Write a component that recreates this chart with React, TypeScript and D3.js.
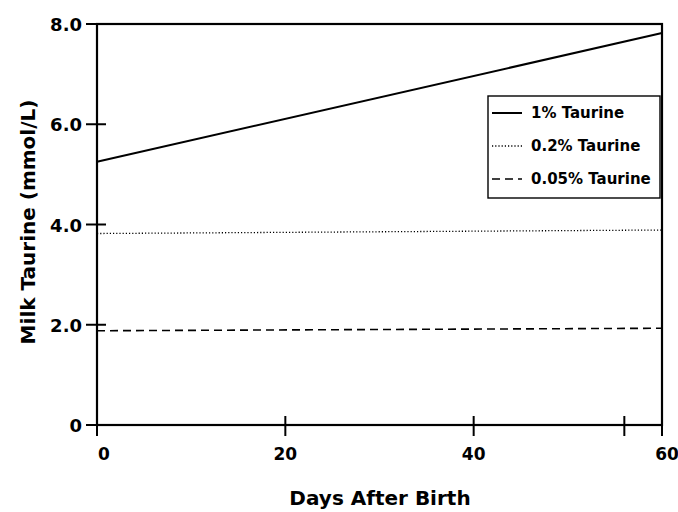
import React, { useEffect, useRef } from "react";
import * as d3 from "d3";

const days = [0, 60];
const taurine1 = [5.25, 7.82];
const taurine02 = [3.82, 3.89];
const taurine005 = [1.88, 1.93];
const seriesNames = ["1% Taurine", "0.2% Taurine", "0.05% Taurine"];
const yTicks = [0, 2, 4, 6, 8];
const xTicks = [0, 20, 40, 56, 60];
const xLabelled = [0, 20, 40, 60];

const W = 678;
const H = 512;
const font = "'DejaVu Sans', Arial, sans-serif";

export default function App() {
  const ref = useRef<SVGSVGElement>(null);

  useEffect(() => {
    const svg = d3.select(ref.current);
    svg.selectAll("*").remove();

    const x = d3.scaleLinear().domain([0, 60]).range([97, 662]);
    const y = d3.scaleLinear().domain([0, 8]).range([425, 24]);

    // frame
    svg.append("rect")
      .attr("x", x(0)).attr("y", y(8))
      .attr("width", x(60) - x(0)).attr("height", y(0) - y(8))
      .attr("fill", "none").attr("stroke", "#000").attr("stroke-width", 2.2);

    // y ticks (crossing)
    svg.selectAll(".yt").data(yTicks).enter().append("line")
      .attr("x1", x(0) - 11).attr("x2", x(0) + 9)
      .attr("y1", d => y(d)).attr("y2", d => y(d))
      .attr("stroke", "#000").attr("stroke-width", 2);
    svg.selectAll(".yl").data(yTicks).enter().append("text")
      .attr("x", 82).attr("y", d => y(d) + 7)
      .attr("text-anchor", "end")
      .attr("font-family", font).attr("font-weight", "bold").attr("font-size", 18)
      .text(d => (d === 0 ? "0" : d3.format(".1f")(d)));

    // x ticks (crossing)
    svg.selectAll(".xt").data(xTicks).enter().append("line")
      .attr("x1", d => x(d)).attr("x2", d => x(d))
      .attr("y1", y(0) - 9).attr("y2", y(0) + 11)
      .attr("stroke", "#000").attr("stroke-width", 2);
    svg.selectAll(".xl").data(xLabelled).enter().append("text")
      .attr("x", d => x(d) + (d === 0 ? 7 : d === 60 ? 5 : 0)).attr("y", 460)
      .attr("text-anchor", "middle")
      .attr("font-family", font).attr("font-weight", "bold").attr("font-size", 17)
      .text(d => d);

    // axis titles
    svg.append("text")
      .attr("x", 380).attr("y", 505)
      .attr("text-anchor", "middle")
      .attr("font-family", font).attr("font-weight", "bold").attr("font-size", 20)
      .text("Days After Birth");
    svg.append("text")
      .attr("transform", "translate(35,222) rotate(-90)")
      .attr("text-anchor", "middle")
      .attr("font-family", font).attr("font-weight", "bold").attr("font-size", 20)
      .text("Milk Taurine (mmol/L)");

    const styles = [
      { dash: null, w: 2 },
      { dash: "1.2,2", w: 1.3 },
      { dash: "8,5", w: 1.6 },
    ];
    const allSeries = [taurine1, taurine02, taurine005];
    const line = d3.line<number>().x((_, i) => x(days[i])).y(d => y(d));

    allSeries.forEach((s, i) => {
      svg.append("path")
        .attr("d", line(s))
        .attr("fill", "none").attr("stroke", "#000")
        .attr("stroke-width", styles[i].w)
        .attr("stroke-dasharray", styles[i].dash);
    });

    // legend
    const lg = svg.append("g").attr("transform", "translate(488,96)");
    lg.append("rect")
      .attr("width", 172).attr("height", 102)
      .attr("fill", "#fff").attr("stroke", "#000").attr("stroke-width", 1.4);
    seriesNames.forEach((n, i) => {
      const cy = 17 + i * 33;
      lg.append("line")
        .attr("x1", 4).attr("x2", 34).attr("y1", cy).attr("y2", cy)
        .attr("stroke", "#000").attr("stroke-width", styles[i].w)
        .attr("stroke-dasharray", styles[i].dash);
      lg.append("text")
        .attr("x", 43).attr("y", cy + 5)
        .attr("font-family", font).attr("font-weight", "bold").attr("font-size", 15)
        .text(n);
    });
  }, []);

  return (
    <svg
      ref={ref}
      width={W}
      height={H}
      style={{ position: "absolute", left: 0, top: 0, background: "#fff" }}
    />
  );
}
